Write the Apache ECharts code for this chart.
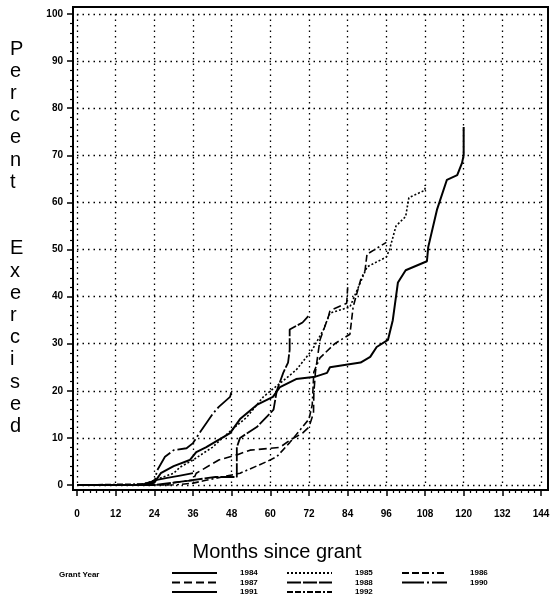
<!DOCTYPE html>
<html>
<head>
<meta charset="utf-8">
<script src="https://cdn.jsdelivr.net/npm/echarts@6/dist/echarts.min.js"></script>
<style>
  html, body { margin: 0; padding: 0; background: #fff; }
  #chart { width: 554px; height: 607px; }
</style>
</head>
<body>
<div id="chart"></div>
<script>
// months since grant vs percent exercised
var grant1984 = [[0,0],[20,0],[24,0.5],[26,2.5],[30,4],[35,5.3],[37,7],[40,8],[47.5,11],[50.6,14],[55.8,17],[60.8,18.7],[63,20.8],[68,22.5],[74,23],[77.6,23.8],[78.5,25],[88,26],[91,27.2],[93,29.3],[96.5,30.8],[98,35],[99.6,43],[102,45.6],[108.6,47.5],[109,50.5],[111.7,58.4],[114.8,64.8],[118,65.8],[119.5,68.4],[120,70],[120,76]];
var grant1985 = [[0,0],[20,0],[24,1],[30,2.5],[32,3.8],[36,5.3],[42,8],[48,11.7],[52.7,14.4],[57.8,18.7],[63,21.6],[68,24.4],[73,28.7],[76.5,33],[78.5,36.5],[84.7,37.8],[90,46.3],[96,48.4],[97,50],[99,55],[102,57],[103,61],[108,62.6],[108,63.7]];
var grant1986 = [[0,0],[30,0],[36,0.4],[40,1],[50.6,2.5],[59,5],[62,6],[66,9],[72,14],[73,17],[73.5,24],[75.4,27],[80,30],[84.7,32],[85.7,37.8],[88,43.5],[89.4,45.6],[90,49],[96,51.5]];
var grant1987 = [[0,0],[28,0],[30,0.5],[36,1],[37,2.5],[44,5.3],[50,6.5],[53.7,7.4],[60,7.8],[63,8],[66,9.5],[70,11],[72,12.3],[73.4,15.3],[73.5,19.5],[74,24],[75.4,30.8],[78,35.7],[78.5,37],[83.7,38.6],[84,42]];
var grant1988 = [[0,0],[24,0],[30,0.5],[43,1.7],[49.6,1.7],[49.6,8],[50.6,10],[55.8,12.3],[61,16],[62,20],[64,23.8],[65.5,26],[66,28.7],[66,33],[70,34.5],[72,36]];
var grant1990 = [[0,0],[22,0],[24.2,1],[24.8,3],[27.3,6],[30,7.4],[34,7.8],[36,8.9],[38,11],[40,13],[42,15],[44,16.6],[47.5,18.7],[48,20]];
var grant1991 = [[0,0],[18,0],[22,0.3],[24,1],[28,1.5],[32,2],[36,2.5]];
var grant1992 = [[0,0],[20,0.2],[24,0.8]];

var years = ['1984', '1985', '1986', '1987', '1988', '1990', '1991', '1992'];
var curves = [grant1984, grant1985, grant1986, grant1987, grant1988, grant1990, grant1991, grant1992];
var dashes = ['solid', [2, 2], [7, 3, 7, 3, 7, 3, 2, 3], [8, 4], [14, 2], [22, 3, 2, 3], 'solid', [6, 2, 6, 2, 2, 2]];
var widths = [2, 1.6, 1.6, 1.6, 1.8, 1.8, 1.8, 1.6];

var narrow = '"Liberation Sans Narrow", "Arial Narrow", "Liberation Sans", sans-serif';

var chartDom = document.getElementById('chart');
var myChart = echarts.init(chartDom, null, { renderer: 'canvas' });

var series = years.map(function (y, i) {
  return {
    name: y,
    type: 'line',
    xAxisIndex: 0,
    yAxisIndex: 0,
    symbol: 'none',
    data: curves[i],
    lineStyle: { color: '#000', width: widths[i], type: dashes[i] },
    itemStyle: { color: '#000' },
    animation: false
  };
});

var legendBase = {
  orient: 'vertical',
  itemWidth: 45,
  itemHeight: 8,
  itemGap: 1.5,
  selectedMode: false,
  itemStyle: { color: 'transparent', borderColor: 'transparent', borderWidth: 0, opacity: 0 },
  textStyle: { fontSize: 8, fontWeight: 'bold', fontFamily: narrow, color: '#000', padding: [0, 0, 0, 18], lineHeight: 8 }
};

var option = {
  backgroundColor: '#fff',
  animation: false,
  title: [
    {
      text: 'P\ne\nr\nc\ne\nn\nt\n \n \nE\nx\ne\nr\nc\ni\ns\ne\nd',
      left: 5, top: 33,
      textStyle: { fontSize: 20, fontWeight: 'normal', fontFamily: narrow, color: '#000', lineHeight: 22.2, align: 'center', width: 18 }
    },
    {
      text: 'Months since grant',
      left: 'center', top: 537,
      textStyle: { fontSize: 20, fontWeight: 'normal', fontFamily: narrow, color: '#000' }
    },
    {
      text: 'Grant Year',
      left: 54, top: 566,
      textStyle: { fontSize: 8, fontWeight: 'bold', fontFamily: narrow, color: '#000' }
    }
  ],
  legend: [
    Object.assign({ left: 166, top: 564, data: ['1984', '1987', '1991'] }, legendBase),
    Object.assign({ left: 281, top: 564, data: ['1985', '1988', '1992'] }, legendBase),
    Object.assign({ left: 396, top: 564, data: ['1986', '1990'] }, legendBase)
  ],
  grid: [
    { left: 77, top: 14, width: 464, height: 471, containLabel: false },
    { left: 73, top: 7, width: 475, height: 483, show: true, borderColor: '#000', borderWidth: 2, backgroundColor: 'transparent' }
  ],
  xAxis: [
    {
      type: 'value', gridIndex: 0, min: 0, max: 144, interval: 12, offset: 5,
      axisLine: { show: true, onZero: false, lineStyle: { color: '#000', width: 2 } },
      axisTick: { show: true, length: 6, lineStyle: { color: '#000', width: 1.5 } },
      minorTick: { show: true, splitNumber: 6, length: 3, lineStyle: { color: '#000', width: 1.2 } },
      axisLabel: { margin: 19, fontSize: 10, fontWeight: 'bold', fontFamily: narrow, color: '#000' },
      splitLine: { show: true, lineStyle: { color: '#000', width: 1.3, type: [1.5, 4] } }
    },
    { type: 'value', gridIndex: 1, show: false, min: 0, max: 1 }
  ],
  yAxis: [
    {
      type: 'value', gridIndex: 0, min: 0, max: 100, interval: 10, offset: 4,
      axisLine: { show: true, onZero: false, lineStyle: { color: '#000', width: 2 } },
      axisTick: { show: true, length: 6, lineStyle: { color: '#000', width: 1.5 } },
      minorTick: { show: true, splitNumber: 5, length: 3, lineStyle: { color: '#000', width: 1.2 } },
      axisLabel: { margin: 10, fontSize: 10, fontWeight: 'bold', fontFamily: narrow, color: '#000' },
      splitLine: { show: true, lineStyle: { color: '#000', width: 1.3, type: [1.5, 4] } }
    },
    { type: 'value', gridIndex: 1, show: false, min: 0, max: 1 }
  ],
  series: series
};

option && myChart.setOption(option);
</script>
</body>
</html>
